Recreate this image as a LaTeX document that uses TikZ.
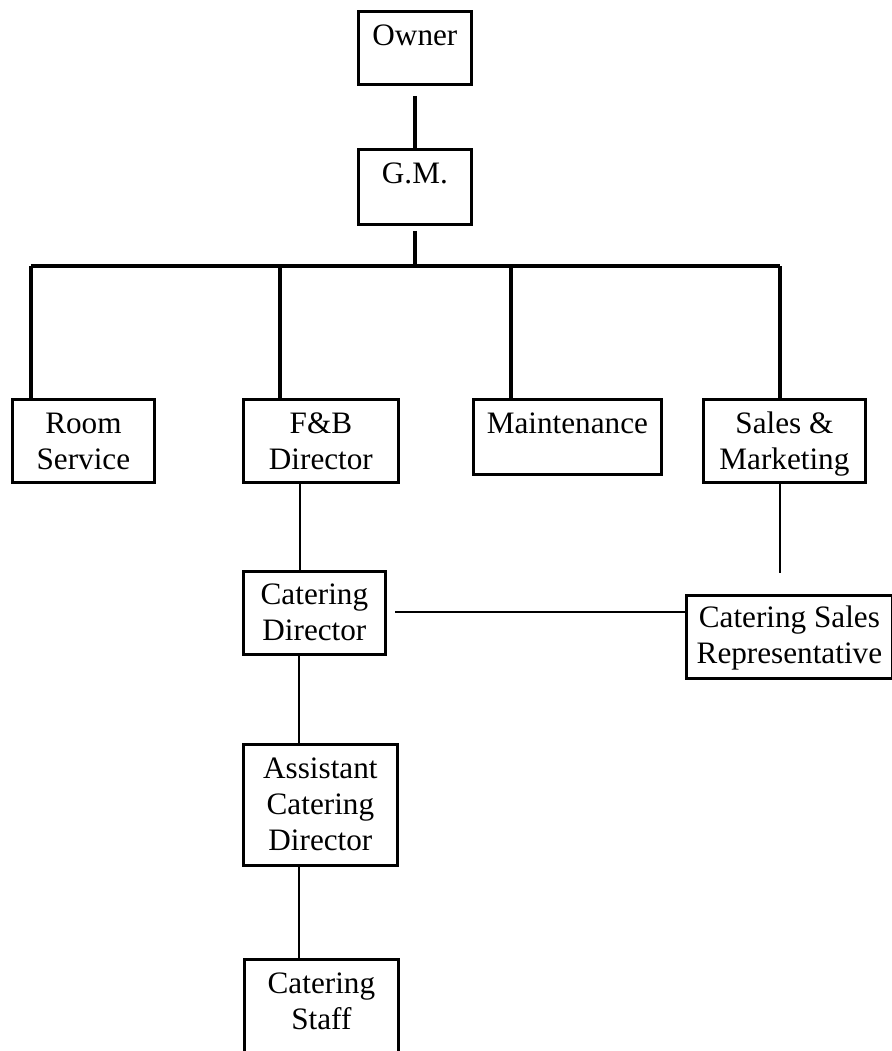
\documentclass[tikz,border=0pt]{standalone}
\usepackage{fontspec}
\setmainfont{Liberation Serif}
\begin{document}
\begin{tikzpicture}[x=0.75pt,y=-0.75pt,
  box/.style={draw,line width=2.1pt,rectangle,anchor=north west,inner sep=0pt},
  lbl/.style={anchor=base,align=center,inner sep=0pt,font=\fontsize{23.4pt}{27pt}\selectfont},
  conn/.style={line width=2.4pt},
  thin/.style={line width=1.8pt}]
\clip (0,0) rectangle (892,1051);
\useasboundingbox (0,0) rectangle (892,1051);
% boxes
\node[box,minimum width=113*0.75pt,minimum height=73*0.75pt] (owner) at (357,10) {};
\node[box,minimum width=113*0.75pt,minimum height=75*0.75pt] (gm) at (357,148) {};
\node[box,minimum width=142*0.75pt,minimum height=83*0.75pt] (room) at (11,398) {};
\node[box,minimum width=155*0.75pt,minimum height=83*0.75pt] (fb) at (242,398) {};
\node[box,minimum width=188*0.75pt,minimum height=75*0.75pt] (maint) at (472,398) {};
\node[box,minimum width=162*0.75pt,minimum height=83*0.75pt] (sales) at (702,398) {};
\node[box,minimum width=142*0.75pt,minimum height=83*0.75pt] (catdir) at (242,570) {};
\node[box,minimum width=206*0.75pt,minimum height=83*0.75pt] (rep) at (685,594) {};
\node[box,minimum width=154*0.75pt,minimum height=121*0.75pt] (asst) at (242,743) {};
\node[box,minimum width=154*0.75pt,minimum height=130*0.75pt] (staff) at (243,958) {};
% labels (anchor = baseline of last line)
\node[lbl] (towner) at ([yshift=-35*0.75pt]owner.north) {Owner};
\node[lbl] (tgm) at ([yshift=-35*0.75pt]gm.north) {G.M.};
\node[lbl] (troom) at ([yshift=-71*0.75pt]room.north) {Room\\Service};
\node[lbl] (tfb) at ([yshift=-71*0.75pt]fb.north) {F\&B\\Director};
\node[lbl] (tmaint) at ([yshift=-35*0.75pt]maint.north) {Maintenance};
\node[lbl] (tsales) at ([yshift=-71*0.75pt]sales.north) {Sales \&\\Marketing};
\node[lbl] (tcatdir) at ([yshift=-70*0.75pt]catdir.north) {Catering\\Director};
\node[lbl] (trep) at ([yshift=-69*0.75pt]rep.north) {Catering Sales\\Representative};
\node[lbl] (tasst) at ([yshift=-107*0.75pt]asst.north) {Assistant\\Catering\\Director};
\node[lbl] (tstaff) at ([yshift=-71*0.75pt]staff.north) {Catering\\Staff};
% connectors
\coordinate (busL) at (31,266);
\coordinate (busR) at (780,266);
\coordinate (busM) at (gm.south |- busL);
\coordinate (cdR) at (395,612);
\draw[conn] ([yshift=-10*0.75pt]owner.south) -- (gm.north);
\draw[conn] ([yshift=-5*0.75pt]gm.south) -- (busM);
\draw[conn] (busL) -- (busR);
\draw[conn] (busL) -- (busL |- room.north);
\draw[conn] (280,266) -- (280,266 |- fb.north);
\draw[conn] (511,266) -- (511,266 |- maint.north);
\draw[conn] (busR) -- (busR |- sales.north);
\draw[thin] (300,483) -- (300,483 |- catdir.north);
\draw[thin] (cdR) -- (cdR -| rep.west);
\draw[thin] (780,483) -- (780,573);
\draw[thin] (299,653) -- (299,653 |- asst.north);
\draw[thin] (299,866) -- (299,866 |- staff.north);
\end{tikzpicture}
\end{document}
